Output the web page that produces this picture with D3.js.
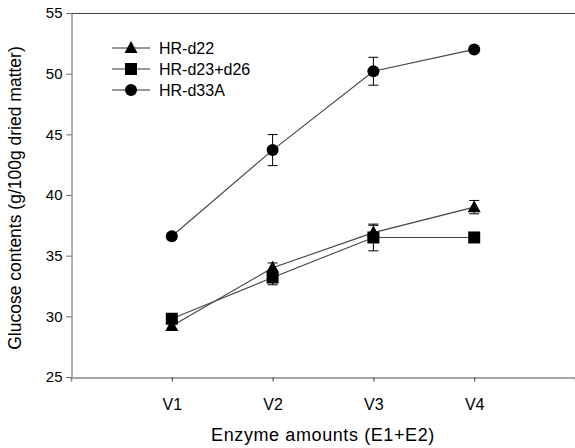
<!DOCTYPE html>
<html><head><meta charset="utf-8">
<script src="https://cdn.jsdelivr.net/npm/d3@7"></script>
<style>body{margin:0;background:#fff}svg{display:block}text{font-family:"Liberation Sans",Arial,sans-serif;fill:#000}</style>
</head><body><svg id="c" width="575" height="448"></svg>
<script>
const categories = ["V1","V2","V3","V4"];
const yTicks = [25,30,35,40,45,50,55];
const seriesNames = ["HR-d22","HR-d23+d26","HR-d33A"];
const d22 = [29.2, 34.0, 36.9, 39.0];
const d22Err = [0.3, 0.4, 0.6, 0.55];
const d23 = [29.8, 33.2, 36.5, 36.5];
const d23Err = [0.3, 0.6, 1.1, 0.2];
const d33 = [36.6, 43.7, 50.2, 52.0];
const d33Err = [0.2, 1.28, 1.15, 0.2];
const symbols = ["triangle","square","circle"];

const svg = d3.select("#c");
const L=71, R=575, T=13, B=377;
const x = d3.scaleLinear().domain([0,5]).range([L,R]);
const y = d3.scaleLinear().domain([25,55]).range([B,T]);

// frame
svg.append("line").attr("x1",L).attr("x2",R).attr("y1",T+0.5).attr("y2",T+0.5).attr("stroke","#444").attr("stroke-width",1);
const yAxis = svg.append("g").attr("transform",`translate(${L+0.5},0)`)
  .call(d3.axisLeft(y).tickValues(yTicks).tickSize(5).tickPadding(4).tickFormat(d3.format("d")));
yAxis.select(".domain").attr("stroke","#666");
yAxis.selectAll(".tick line").attr("stroke","#666");
yAxis.selectAll("text").attr("font-size",15).attr("font-family","Liberation Sans, Arial, sans-serif");
const xAxis = svg.append("g").attr("transform",`translate(0,${B+0.5})`)
  .call(d3.axisBottom(x).tickValues([1,2,3,4]).tickSize(4).tickPadding(17).tickFormat((d,i)=>categories[i]));
xAxis.select(".domain").attr("stroke","#888").attr("stroke-width",1.5);
xAxis.selectAll(".tick line").attr("stroke","#333");
xAxis.selectAll("text").attr("font-size",16).attr("font-family","Liberation Sans, Arial, sans-serif");

const data = [
  {name:seriesNames[0], v:d22, e:d22Err, sym:symbols[0]},
  {name:seriesNames[1], v:d23, e:d23Err, sym:symbols[1]},
  {name:seriesNames[2], v:d33, e:d33Err, sym:symbols[2]}
];
const line = d3.line().x((d,i)=>x(i+1)).y(d=>y(d));
function drawSym(g, sym, cx, cy){
  if(sym==="circle") g.append("circle").attr("cx",cx).attr("cy",cy).attr("r",6).attr("fill","#000");
  else if(sym==="square") g.append("rect").attr("x",cx-6).attr("y",cy-6).attr("width",12).attr("height",12).attr("fill","#000");
  else g.append("path").attr("d",`M${cx},${cy-7}L${cx+6.5},${cy+5}L${cx-6.5},${cy+5}Z`).attr("fill","#000");
}
data.forEach(s=>{
  svg.append("path").attr("d",line(s.v)).attr("fill","none").attr("stroke","#444").attr("stroke-width",1.1);
});
data.forEach(s=>{
  const g = svg.append("g");
  s.v.forEach((v,i)=>{
    const cx=x(i+1), e=s.e[i];
    g.append("line").attr("x1",cx).attr("x2",cx).attr("y1",y(v+e)).attr("y2",y(v-e)).attr("stroke","#000");
    [v+e,v-e].forEach(w=>g.append("line").attr("x1",cx-5).attr("x2",cx+5).attr("y1",y(w)).attr("y2",y(w)).attr("stroke","#000"));
    drawSym(g, s.sym, cx, y(v));
  });
});
// legend
const lg = svg.append("g");
data.forEach((s,i)=>{
  const ly = 48 + i*21;
  lg.append("line").attr("x1",112).attr("x2",150).attr("y1",ly).attr("y2",ly).attr("stroke","#333");
  drawSym(lg, s.sym, 131, ly);
  lg.append("text").attr("x",159).attr("y",ly+5.5).attr("font-size",16).text(s.name);
});
// titles
svg.append("text").attr("x",(L+R)/2).attr("y",441).attr("text-anchor","middle").attr("font-size",18).attr("letter-spacing",0.6).text("Enzyme amounts (E1+E2)");
svg.append("text").attr("transform",`translate(21,${(T+B)/2+3}) rotate(-90)`).attr("text-anchor","middle").attr("font-size",17.5).text("Glucose contents (g/100g dried matter)");
</script></body></html>
